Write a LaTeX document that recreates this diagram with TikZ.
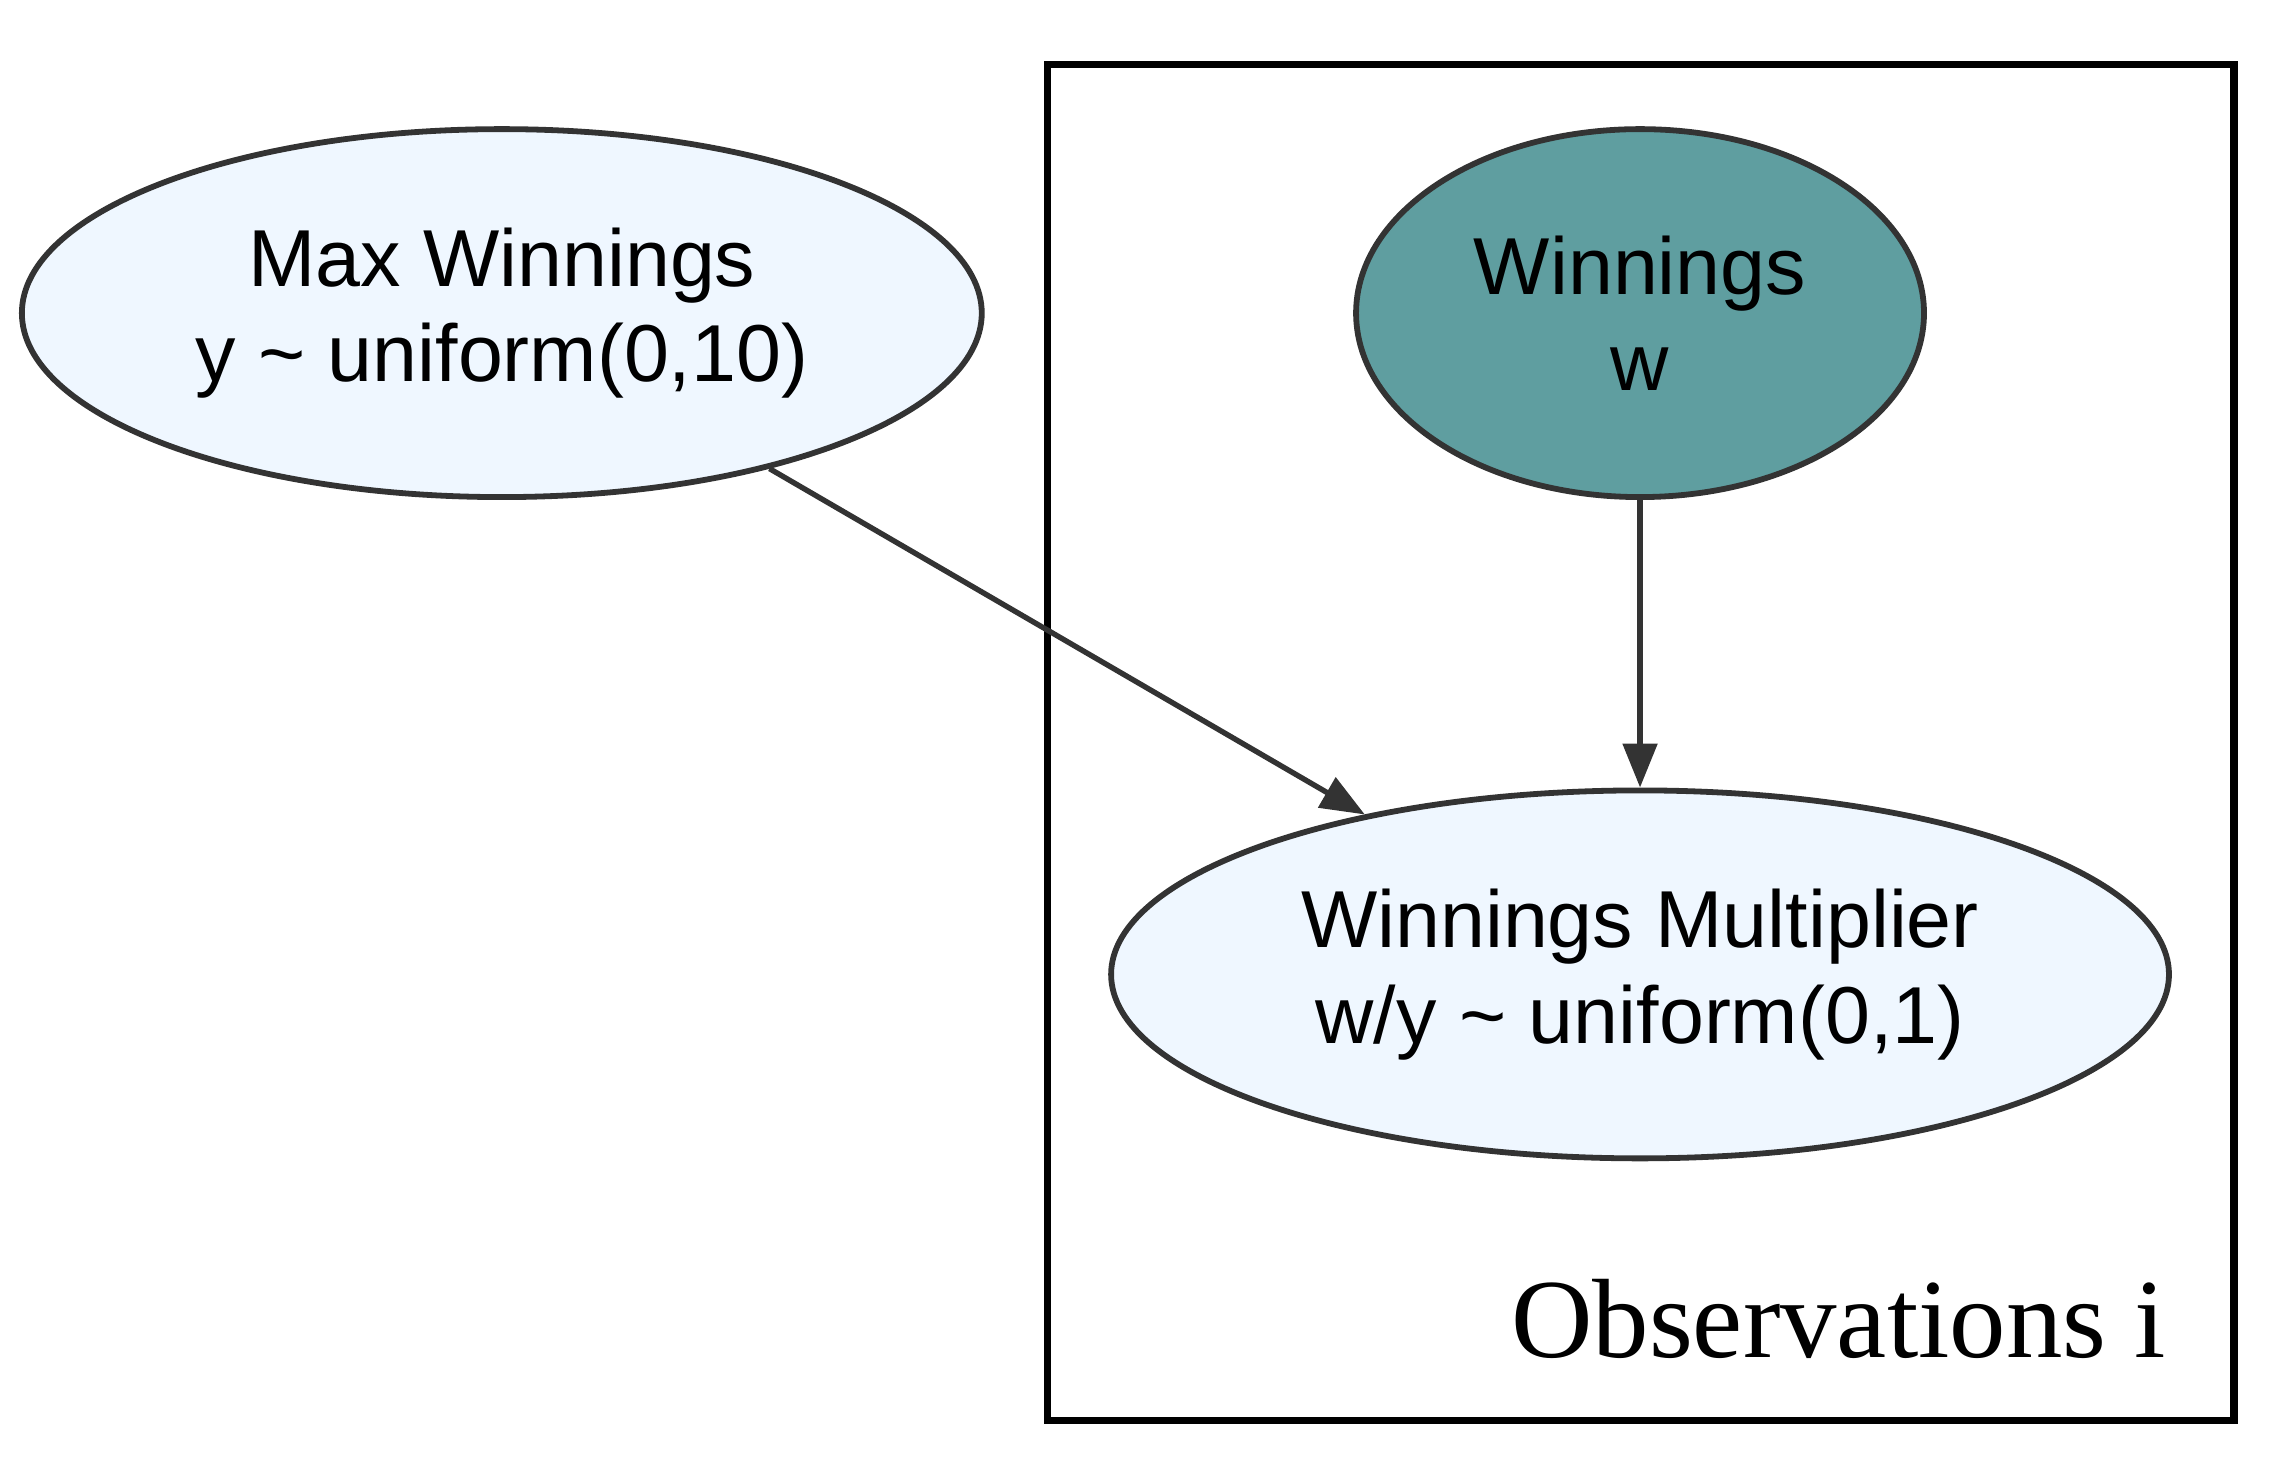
\documentclass[tikz,border=0pt]{standalone}
\usepackage{fontspec}
\newfontfamily\nodefont{Liberation Sans}
\newfontfamily\platefont{Liberation Serif}
\usetikzlibrary{shapes.geometric,arrows.meta}
\definecolor{lightfill}{HTML}{EFF7FF}
\definecolor{obsfill}{HTML}{5F9EA0}
\definecolor{edgegray}{HTML}{333333}
\tikzset{
  latentnode/.style={ellipse, draw=edgegray, line width=1.45pt, fill=lightfill,
    inner sep=0pt, align=center, font=\nodefont\fontsize{20.2}{24}\selectfont},
  obsnode/.style={latentnode, fill=obsfill},
  edgearrow/.style={draw=edgegray, line width=1.35pt,
    -{Triangle[length=11pt,width=8.5pt]}},
  platebox/.style={draw=black, line width=1.8pt}
}
\begin{document}
\begin{tikzpicture}[x=0.3658pt, y=-0.3658pt]
\useasboundingbox (0,0) rectangle (1568,1003);
% plate
\draw[platebox] (716,44) rectangle (1527,971);
\node[anchor=base east, font=\platefont\fontsize{28.2}{32}\selectfont, inner sep=0pt] (plate) at (1481,928) {Observations i};
% nodes
\node[latentnode, minimum width=240pt, minimum height=92pt] (mw) at (343,214) {Max Winnings\\y \textasciitilde{} uniform(0,10)};
\node[obsnode, minimum width=142pt, minimum height=92pt] (w) at (1121,214) {Winnings\\w};
\node[latentnode, minimum width=264.5pt, minimum height=92pt] (mult) at (1121,666) {Winnings Multiplier\\w/y \textasciitilde{} uniform(0,1)};
% edges
\draw[edgearrow] (mw) -- (mult);
\draw[edgearrow] (w) -- (mult);
\end{tikzpicture}
\end{document}
